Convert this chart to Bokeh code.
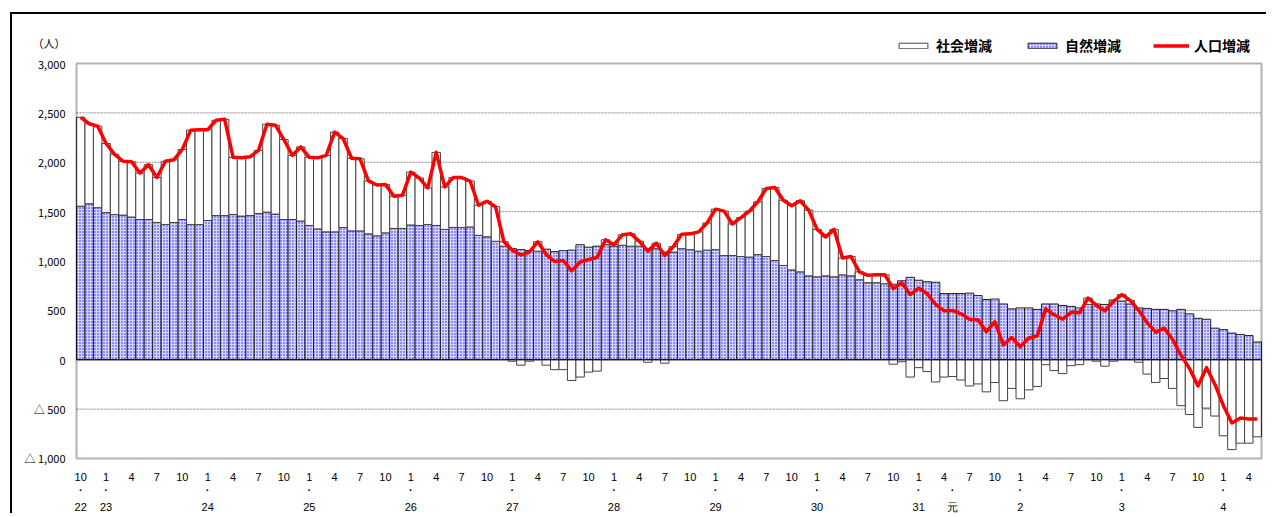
from bokeh.plotting import figure
from bokeh.models import (Range1d, LinearAxis, FixedTicker, Legend, LegendItem,
                          BoxAnnotation, ColumnDataSource)
from bokeh.embed import file_html
from bokeh.resources import INLINE

# ---------------- data (monthly, 2010-10 .. 2022-05) ----------------
start_year, start_month = 2010, 10
natural = [
    1555, 1580, 1540, 1490, 1470, 1465, 1445, 1420, 1420, 1390,
    1370, 1390, 1420, 1370, 1370, 1410, 1460, 1460, 1470, 1455,
    1460, 1480, 1495, 1475, 1420, 1420, 1405, 1360, 1325, 1295,
    1295, 1340, 1305, 1305, 1275, 1255, 1285, 1330, 1330, 1365,
    1360, 1370, 1360, 1320, 1340, 1340, 1345, 1260, 1245, 1200,
    1150, 1125, 1115, 1105, 1100, 1120, 1095, 1105, 1110, 1165,
    1140, 1150, 1165, 1150, 1160, 1150, 1150, 1125, 1125, 1090,
    1090, 1125, 1115, 1100, 1110, 1115, 1055, 1055, 1045, 1040,
    1065, 1045, 1005, 955, 910, 890, 850, 840, 850, 840,
    860, 850, 810, 780, 780, 770, 765, 800, 835, 805,
    790, 785, 670, 670, 670, 675, 650, 610, 615, 565,
    515, 525, 525, 510, 565, 565, 550, 540, 525, 560,
    565, 560, 605, 595, 565, 525, 520, 510, 510, 495,
    510, 465, 420, 410, 320, 305, 270, 255, 245, 180,
]
social = [
    900, 810, 825, 700, 610, 545, 560, 470, 555, 455,
    640, 635, 710, 955, 960, 920, 965, 975, 580, 590,
    595, 640, 890, 900, 810, 650, 750, 690, 720, 775,
    1010, 900, 735, 730, 535, 515, 490, 325, 335, 535,
    480, 370, 740, 430, 505, 505, 465, 305, 360, 350,
    45, -15, -55, -15, 95, -55, -100, -100, -210, -175,
    -125, -115, 50, 15, 105, 125, 50, -25, 55, -35,
    55, 145, 160, 195, 275, 410, 450, 320, 395, 465,
    535, 690, 740, 660, 650, 720, 665, 480, 395, 480,
    170, 195, 80, 75, 80, 90, -45, -20, -175, -80,
    -120, -225, -175, -170, -205, -265, -245, -325, -230, -415,
    -290, -395, -305, -270, -50, -110, -140, -60, -50, 65,
    -15, -65, -15, 65, 35, -25, -145, -230, -190, -290,
    -465, -555, -685, -490, -570, -770, -910, -845, -845, -780,
]
total = [
    2455, 2390, 2365, 2190, 2080, 2010, 2005, 1890, 1975, 1845,
    2010, 2025, 2130, 2325, 2330, 2330, 2425, 2435, 2050, 2045,
    2055, 2120, 2385, 2375, 2230, 2070, 2155, 2050, 2045, 2070,
    2305, 2240, 2040, 2035, 1810, 1770, 1775, 1655, 1665, 1900,
    1840, 1740, 2100, 1750, 1845, 1845, 1810, 1565, 1605, 1550,
    1195, 1110, 1060, 1090, 1195, 1065, 995, 1005, 900, 990,
    1015, 1035, 1215, 1165, 1265, 1275, 1200, 1100, 1180, 1055,
    1145, 1270, 1275, 1295, 1385, 1525, 1505, 1375, 1440, 1505,
    1600, 1735, 1745, 1615, 1560, 1610, 1515, 1320, 1245, 1320,
    1030, 1045, 890, 855, 860, 860, 720, 780, 660, 725,
    670, 560, 495, 500, 465, 410, 405, 285, 385, 150,
    225, 130, 220, 240, 515, 455, 410, 480, 475, 625,
    550, 495, 590, 660, 600, 500, 375, 280, 320, 205,
    45, -90, -265, -80, -250, -465, -640, -590, -600, -600,
]

# era-year labels and the month (YYYY-MM) they sit under
era_labels = ["22", "23", "24", "25", "26", "27", "28", "29", "30", "31", "元", "2", "3", "4"]
era_months = ["2010-10", "2011-01", "2012-01", "2013-01", "2014-01", "2015-01", "2016-01",
              "2017-01", "2018-01", "2019-01", "2019-05", "2020-01", "2021-01", "2022-01"]
month_label_set = [1, 4, 7, 10]
y_min, y_max = -1000, 3000
y_ticks = [-1000, -500, 0, 500, 1000, 1500, 2000, 2500, 3000]
y_tick_labels = ["△ 1,000", "△ 500", "0", "500", "1,000", "1,500", "2,000", "2,500", "3,000"]
grid_values = [-500, 500, 1000, 1500, 2000, 2500]
legend_labels = ["社会増減", "自然増減", "人口増減"]
unit_label = "（人）"

# ---------------- derived positions ----------------
n = len(natural)
periods = []
months = []
for i in range(n):
    m0 = start_month - 1 + i
    yy = start_year + m0 // 12
    mm = m0 % 12 + 1
    periods.append(f"{yy}-{mm:02d}")
    months.append(mm)
idx = list(range(n))

soc_bottom = [nv if s > 0 else 0 for nv, s in zip(natural, social)]
soc_top = [nv + s if s > 0 else s for nv, s in zip(natural, social)]

src = ColumnDataSource(dict(x=idx, nat=natural, sb=soc_bottom, st=soc_top, tot=total))

CJK = "Noto Sans CJK JP"
LAT = "Liberation Sans"

# layout (pixels)
W, H = 1256, 501
PX_PER_BAR = 8.464          # horizontal scale
PX_PER_UNIT = 0.09873       # vertical scale
PAD = 4                     # frame padding around the drawn plot box
TOP_SPACE = 49              # room above the plot box for legend and unit
x_pad = PAD / PX_PER_BAR
y_top = y_max + TOP_SPACE / PX_PER_UNIT
y_bot = y_min - PAD / PX_PER_UNIT
unit_y = y_max + 21 / PX_PER_UNIT

p = figure(width=W, height=H,
           x_range=Range1d(-0.5 - x_pad, n - 0.5 + x_pad),
           y_range=Range1d(y_bot, y_top), output_backend="svg",
           toolbar_location=None, x_axis_location=None,
           min_border_left=60, min_border_right=3, min_border_top=0,
           min_border_bottom=10,
           styles={"margin-left": "10px", "margin-top": "12px",
                   "border-left": "2px solid black", "border-top": "2px solid black"})
p.outline_line_color = None
p.background_fill_color = "white"
p.border_fill_color = "white"
p.xgrid.visible = False
p.ygrid.visible = False

# y axis (plus the unit caption as a label above 3,000)
yt = y_ticks + [unit_y]
yl = y_tick_labels + [unit_label]
ya = p.yaxis[0]
ya.ticker = FixedTicker(ticks=yt)
ya.major_label_overrides = {t: l for t, l in zip(yt, yl)}
ya.axis_line_color = None
ya.major_tick_line_color = None
ya.major_tick_out = 0
ya.major_tick_in = 0
ya.minor_tick_line_color = None
ya.major_label_standoff = 7
ya.major_label_text_font = CJK
ya.major_label_text_font_size = "11px"
ya.major_label_text_color = "black"

# dotted grid lines inside the plot box
p.segment(x0=-0.5, x1=n - 0.5, y0=grid_values, y1=grid_values,
          line_color="#8a8a8a", line_dash="2 1", line_width=1)

# bars
r_nat = p.vbar(x="x", top="nat", bottom=0, width=1.0, source=src,
               fill_color="#d4d4ff", hatch_pattern=".", hatch_color="#1c1cff",
               hatch_scale=3, hatch_weight=1,
               line_color="#222222", line_width=1)
r_soc = p.vbar(x="x", top="st", bottom="sb", width=1.0, source=src,
               fill_color="white", line_color="#444444", line_width=1)
p.segment(x0=-0.5, x1=n - 0.5, y0=0, y1=0, line_color="black", line_width=1)
r_tot = p.line(x="x", y="tot", source=src, line_color="#ff0000", line_width=3.5,
               line_join="round")

# plot box
p.add_layout(BoxAnnotation(left=-0.5, right=n - 0.5, bottom=y_min, top=y_max,
                           fill_alpha=0, line_color="black", line_width=2))

# x axes: month row, dot row, era-year row
def make_axis(ticks, labels, standoff, style="normal"):
    ax = LinearAxis(ticker=FixedTicker(ticks=ticks),
                    major_label_overrides={t: l for t, l in zip(ticks, labels)})
    ax.axis_line_color = None
    ax.major_tick_line_color = None
    ax.major_tick_out = 0
    ax.major_tick_in = 0
    ax.minor_tick_line_color = None
    ax.major_label_standoff = standoff
    ax.major_label_text_font = LAT
    ax.major_label_text_font_size = "11px"
    ax.major_label_text_font_style = style
    ax.major_label_text_color = "black"
    return ax

m_ticks = [i for i in idx if months[i] in month_label_set]
m_labels = [str(months[i]) for i in m_ticks]
era_ticks = [periods.index(pm) for pm in era_months]

p.add_layout(make_axis(m_ticks, m_labels, 10), "below")
p.add_layout(make_axis(era_ticks, ["·"] * len(era_ticks), 0, "bold"), "below")
p.add_layout(make_axis(era_ticks, era_labels, 2), "below")

# legend (inside the frame, above the plot box)
frame_h = H - 54
legend = Legend(items=[LegendItem(label=legend_labels[0], renderers=[r_soc]),
                       LegendItem(label=legend_labels[1], renderers=[r_nat]),
                       LegendItem(label=legend_labels[2], renderers=[r_tot])],
                orientation="horizontal", location=(823, frame_h - 40),
                glyph_width=36, glyph_height=7, label_standoff=5, spacing=32,
                padding=0, margin=0, border_line_color=None,
                background_fill_alpha=0,
                label_text_font=CJK, label_text_font_size="14px",
                label_text_font_style="bold", label_text_color="black")
p.add_layout(legend)

open("out.html", "w").write(file_html(p, INLINE))
